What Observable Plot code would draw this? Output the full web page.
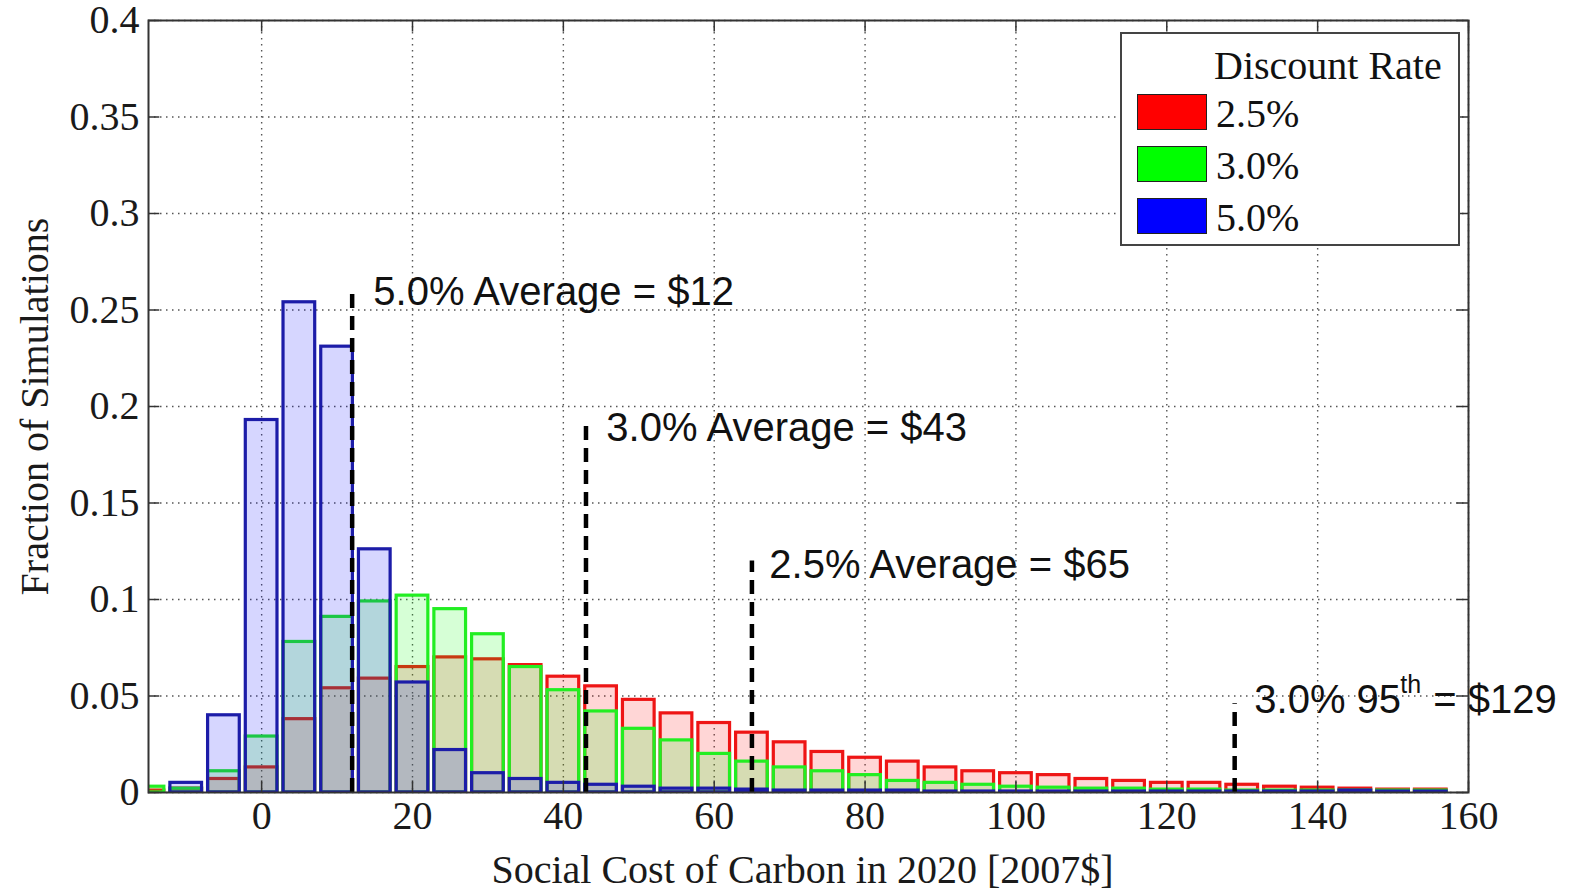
<!DOCTYPE html>
<html>
<head>
<meta charset="utf-8">
<script src="https://cdn.jsdelivr.net/npm/d3@7"></script>
<script src="https://cdn.jsdelivr.net/npm/@observablehq/plot@0.6"></script>
<style>
  body { margin: 0; background: #fff; }
  #wrap { position: relative; width: 1573px; height: 891px; }
  #legend { position: absolute; left: 1120px; top: 32px; width: 336px; height: 210px;
            border: 2px solid #444; background: #fff;
            font-family: "Liberation Serif", "Times New Roman", serif; font-size: 40px; color: #111; }
  #legend .title { position: absolute; left: 92px; top: 10px; line-height: 44px; white-space: nowrap; }
  #legend .sw { position: absolute; left: 15px; width: 70px; height: 36px; border: 1.5px solid #222; box-sizing: border-box; }
  #legend .lb { position: absolute; left: 94px; line-height: 44px; white-space: nowrap; }
</style>
</head>
<body>
<div id="wrap"></div>
<script>
// ---- data ----
const binCenters = [-15,-10,-5,0,5,10,15,20,25,30,35,40,45,50,55,60,65,70,75,80,85,90,95,100,105,110,115,120,125,130,135,140,145,150,155];
const rate25 = [0.001,0.002,0.007,0.013,0.038,0.054,0.059,0.065,0.070,0.069,0.066,0.060,0.055,0.048,0.041,0.036,0.031,0.026,0.021,0.018,0.016,0.013,0.011,0.010,0.009,0.007,0.006,0.005,0.005,0.004,0.003,0.0025,0.002,0.0015,0.0015];
const rate30 = [0.003,0.002,0.011,0.029,0.078,0.091,0.099,0.102,0.095,0.082,0.065,0.053,0.042,0.033,0.027,0.020,0.016,0.013,0.011,0.009,0.006,0.005,0.004,0.003,0.0025,0.002,0.002,0.0015,0.0015,0.001,0.001,0.001,0.001,0.001,0.001];
const rate50 = [0,0.005,0.040,0.193,0.254,0.231,0.126,0.057,0.022,0.010,0.007,0.005,0.004,0.003,0.002,0.002,0.0015,0.001,0.001,0.001,0.001,0.0005,0.0005,0.0005,0.0005,0.0005,0.0005,0.0005,0.0005,0.0005,0.0005,0.0005,0.001,0.0005,0.0005];
const seriesNames = ["2.5%", "3.0%", "5.0%"];
const seriesFills = ["#ff0000", "#00ff00", "#0000ff"];
const seriesStrokes = ["#ee1515", "#22ee22", "#1c1ca8"];
const xTicks = [0, 20, 40, 60, 80, 100, 120, 140, 160];
const yTicks = [0, 0.05, 0.1, 0.15, 0.2, 0.25, 0.3, 0.35, 0.4];
const markerX = [12, 43, 65, 129];
const markerTop = [0.26, 0.19, 0.12, 0.046];
const markerText = ["5.0% Average = $12", "3.0% Average = $43", "2.5% Average = $65", "3.0% 95"];
const markerTextX = [14.8, 45.7, 67.3, 131.6];
const markerTextY = [0.259, 0.189, 0.118, 0.048];
const xLabel = "Social Cost of Carbon in 2020 [2007$]";
const yLabel = "Fraction of Simulations";
const legendTitle = "Discount Rate";
const halfWidth = 2.1;

const series = [rate25, rate30, rate50];
const barsFor = (vals) => binCenters.map((c, i) => ({ c, v: vals[i] }));
const markers = markerX.map((x, i) => ({ x, top: markerTop[i], text: markerText[i], tx: markerTextX[i], ty: markerTextY[i] }));

const sans = '"Liberation Sans", Arial, sans-serif';
const serif = '"Liberation Serif", "Times New Roman", serif';

const barMarks = series.map((vals, k) => Plot.rectY(barsFor(vals), {
  x1: d => d.c - halfWidth, x2: d => d.c + halfWidth, y: "v",
  fill: seriesFills[k], fillOpacity: 0.16,
  stroke: seriesStrokes[k], strokeWidth: 3.2, clip: true
}));

const chart = Plot.plot({
  width: 1573, height: 891,
  marginLeft: 148, marginRight: 105, marginTop: 20, marginBottom: 99,
  style: { fontFamily: serif, fontSize: "40px", color: "#1a1a1a", background: "white", overflow: "visible" },
  x: { domain: [-15, 160], ticks: xTicks, tickSize: 0, tickPadding: 8, label: null },
  y: { domain: [0, 0.4], ticks: yTicks, tickSize: 0, tickPadding: 9, label: null,
       tickFormat: d => String(+d.toFixed(2)) },
  marks: [
    Plot.ruleX(xTicks, { x: d => d, stroke: "#555", strokeWidth: 1.4, strokeDasharray: "1.5,4.5" }),
    Plot.ruleY(yTicks, { y: d => d, stroke: "#555", strokeWidth: 1.4, strokeDasharray: "1.5,4.5" }),
    ...barMarks,
    Plot.ruleX(markers, { x: "x", y1: 0, y2: "top", stroke: "#000", strokeWidth: 4.5, strokeDasharray: "14,8" }),
    Plot.text(markers, { x: "tx", y: "ty", text: "text", textAnchor: "start", lineAnchor: "middle",
                         fontFamily: sans, fontSize: 40, fill: "#111" }),
    Plot.text(markers.slice(3), { x: "tx", y: "ty", text: () => "th", textAnchor: "start", lineAnchor: "middle",
                         dx: 146, dy: -15, fontFamily: sans, fontSize: 25, fill: "#111" }),
    Plot.text(markers.slice(3), { x: "tx", y: "ty", text: () => "= $129", textAnchor: "start", lineAnchor: "middle",
                         dx: 179, fontFamily: sans, fontSize: 40, fill: "#111" }),
    // inward ticks (MATLAB style)
    Plot.ruleX(xTicks, { x: d => d, y1: 0, y2: 0.006, stroke: "#333", strokeWidth: 1.5 }),
    Plot.ruleX(xTicks, { x: d => d, y1: 0.394, y2: 0.4, stroke: "#333", strokeWidth: 1.5 }),
    Plot.ruleY(yTicks, { y: d => d, x1: -15, x2: -13.5, stroke: "#333", strokeWidth: 1.5 }),
    Plot.ruleY(yTicks, { y: d => d, x1: 158.5, x2: 160, stroke: "#333", strokeWidth: 1.5 }),
    Plot.frame({ stroke: "#333", strokeWidth: 2 }),
    Plot.text([xLabel], { frameAnchor: "bottom", text: d => d, dx: -6, dy: 90, lineAnchor: "bottom",
                          textAnchor: "middle", fontFamily: serif, fontSize: 40, fill: "#1a1a1a" }),
    Plot.text([yLabel], { frameAnchor: "left", text: d => d, dx: -113, rotate: -90, lineAnchor: "middle",
                          textAnchor: "middle", fontFamily: serif, fontSize: 40, fill: "#1a1a1a" })
  ]
});

const wrap = document.getElementById("wrap");
wrap.appendChild(chart);

// legend (HTML overlay inside the axes box)
const legend = document.createElement("div");
legend.id = "legend";
const t = document.createElement("div");
t.className = "title"; t.textContent = legendTitle;
legend.appendChild(t);
seriesNames.forEach((name, k) => {
  const sw = document.createElement("div");
  sw.className = "sw"; sw.style.top = (60 + k * 52) + "px"; sw.style.background = seriesFills[k];
  legend.appendChild(sw);
  const lb = document.createElement("div");
  lb.className = "lb"; lb.style.top = (58 + k * 52) + "px"; lb.textContent = name;
  legend.appendChild(lb);
});
wrap.appendChild(legend);
</script>
</body>
</html>
